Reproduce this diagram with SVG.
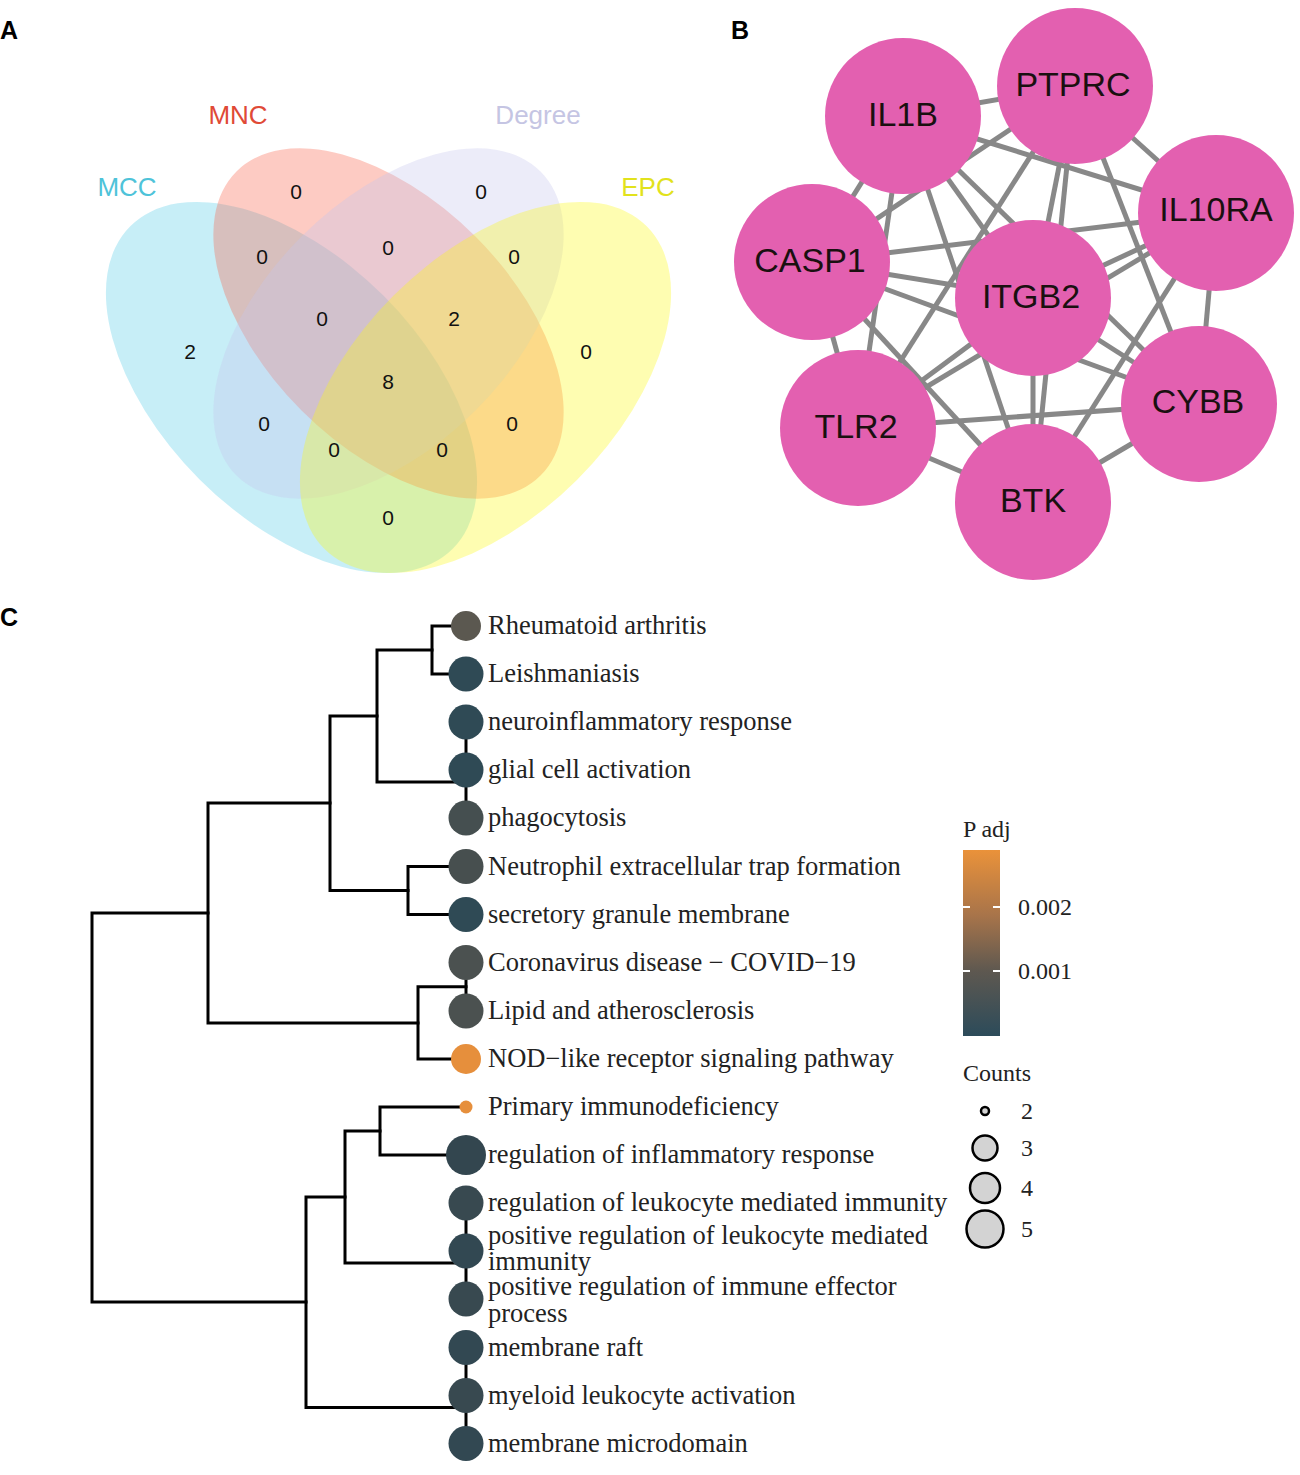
<svg xmlns="http://www.w3.org/2000/svg" width="1300" height="1475" viewBox="0 0 1300 1475">
<defs>
<linearGradient id="pgrad" x1="0" y1="0" x2="0" y2="1">
<stop offset="0" stop-color="#ea923a"/>
<stop offset="0.35" stop-color="#a8744a"/>
<stop offset="0.65" stop-color="#5e5850"/>
<stop offset="1" stop-color="#2c4b5a"/>
</linearGradient>
</defs>
<style>
.panel{font-family:"Liberation Sans",Arial,sans-serif;font-weight:bold;font-size:25px;fill:#000}
.vlab{font-family:"Liberation Sans",Arial,sans-serif;font-size:26px;text-anchor:middle}
.vnum{font-family:"Liberation Sans",Arial,sans-serif;font-size:21px;text-anchor:middle;fill:#111}
.edge{stroke:#888;stroke-width:5;fill:none}
.node{fill:#e360b0}
.ntxt{font-family:"Liberation Sans",Arial,sans-serif;font-size:34px;text-anchor:middle;fill:#1a1010}
.tree{stroke:#000;stroke-width:3;fill:none;stroke-linecap:square}
.tlab{font-family:"Liberation Serif","Times New Roman",serif;font-size:26.5px;fill:#222}
.leg{font-family:"Liberation Serif","Times New Roman",serif;font-size:24px;fill:#222}
.lc{fill:#d3d3d3;stroke:#000;stroke-width:2.5}
.tick{stroke:#fff;stroke-width:2}
</style>
<rect width="1300" height="1475" fill="#fff"/>
<text class="panel" x="0" y="39">A</text>
<text class="panel" x="731" y="39">B</text>
<text class="panel" x="0" y="626">C</text>

<g id="venn">
<ellipse id="set-MCC" cx="291.5" cy="387.5" rx="228" ry="130" transform="rotate(45 291.5 387.5)" fill="#56cbe6" fill-opacity="0.33"/>
<ellipse id="set-MNC" cx="388.5" cy="323.5" rx="215" ry="123" transform="rotate(45 388.5 323.5)" fill="#f86248" fill-opacity="0.33"/>
<ellipse id="set-Degree" cx="388.5" cy="323.5" rx="215" ry="123" transform="rotate(-45 388.5 323.5)" fill="#c6c6ee" fill-opacity="0.33"/>
<ellipse id="set-EPC" cx="485.5" cy="387.5" rx="228" ry="130" transform="rotate(-45 485.5 387.5)" fill="#fcfa12" fill-opacity="0.33"/>
<text class="vlab" x="127" y="196" fill="#4ec3d9">MCC</text>
<text class="vlab" x="238" y="124" fill="#e04a36">MNC</text>
<text class="vlab" x="538" y="124" fill="#c5c5e3">Degree</text>
<text class="vlab" x="648" y="196" fill="#e2e21c">EPC</text>
<text class="vnum" x="296" y="199">0</text>
<text class="vnum" x="481" y="199">0</text>
<text class="vnum" x="262" y="264">0</text>
<text class="vnum" x="388" y="255">0</text>
<text class="vnum" x="514" y="264">0</text>
<text class="vnum" x="322" y="326">0</text>
<text class="vnum" x="454" y="326">2</text>
<text class="vnum" x="190" y="359">2</text>
<text class="vnum" x="586" y="359">0</text>
<text class="vnum" x="388" y="389">8</text>
<text class="vnum" x="264" y="431">0</text>
<text class="vnum" x="512" y="431">0</text>
<text class="vnum" x="334" y="457">0</text>
<text class="vnum" x="442" y="457">0</text>
<text class="vnum" x="388" y="525">0</text>
</g>

<g id="network-edges">
<line class="edge" x1="1075" y1="86" x2="903" y2="116"/>
<line class="edge" x1="1075" y1="86" x2="1216" y2="213"/>
<line class="edge" x1="1075" y1="86" x2="812" y2="262"/>
<line class="edge" x1="1075" y1="86" x2="1033" y2="298"/>
<line class="edge" x1="1075" y1="86" x2="1199" y2="404"/>
<line class="edge" x1="1075" y1="86" x2="858" y2="428"/>
<line class="edge" x1="1075" y1="86" x2="1033" y2="502"/>
<line class="edge" x1="903" y1="116" x2="1216" y2="213"/>
<line class="edge" x1="903" y1="116" x2="812" y2="262"/>
<line class="edge" x1="903" y1="116" x2="1033" y2="298"/>
<line class="edge" x1="903" y1="116" x2="1199" y2="404"/>
<line class="edge" x1="903" y1="116" x2="858" y2="428"/>
<line class="edge" x1="903" y1="116" x2="1033" y2="502"/>
<line class="edge" x1="1216" y1="213" x2="812" y2="262"/>
<line class="edge" x1="1216" y1="213" x2="1033" y2="298"/>
<line class="edge" x1="1216" y1="213" x2="1199" y2="404"/>
<line class="edge" x1="1216" y1="213" x2="858" y2="428"/>
<line class="edge" x1="1216" y1="213" x2="1033" y2="502"/>
<line class="edge" x1="812" y1="262" x2="1033" y2="298"/>
<line class="edge" x1="812" y1="262" x2="1199" y2="404"/>
<line class="edge" x1="812" y1="262" x2="858" y2="428"/>
<line class="edge" x1="812" y1="262" x2="1033" y2="502"/>
<line class="edge" x1="1033" y1="298" x2="1199" y2="404"/>
<line class="edge" x1="1033" y1="298" x2="858" y2="428"/>
<line class="edge" x1="1033" y1="298" x2="1033" y2="502"/>
<line class="edge" x1="1199" y1="404" x2="858" y2="428"/>
<line class="edge" x1="1199" y1="404" x2="1033" y2="502"/>
<line class="edge" x1="858" y1="428" x2="1033" y2="502"/>
</g>

<g id="node-PTPRC"><circle class="node" cx="1075" cy="86" r="78"/><text class="ntxt" x="1073" y="96">PTPRC</text></g>
<g id="node-IL1B"><circle class="node" cx="903" cy="116" r="78"/><text class="ntxt" x="903" y="126">IL1B</text></g>
<g id="node-IL10RA"><circle class="node" cx="1216" cy="213" r="78"/><text class="ntxt" x="1216" y="221">IL10RA</text></g>
<g id="node-CASP1"><circle class="node" cx="812" cy="262" r="78"/><text class="ntxt" x="810" y="272">CASP1</text></g>
<g id="node-ITGB2"><circle class="node" cx="1033" cy="298" r="78"/><text class="ntxt" x="1031" y="308">ITGB2</text></g>
<g id="node-CYBB"><circle class="node" cx="1199" cy="404" r="78"/><text class="ntxt" x="1198" y="413">CYBB</text></g>
<g id="node-TLR2"><circle class="node" cx="858" cy="428" r="78"/><text class="ntxt" x="856" y="438">TLR2</text></g>
<g id="node-BTK"><circle class="node" cx="1033" cy="502" r="78"/><text class="ntxt" x="1033" y="512">BTK</text></g>

<g id="tree-edges">
<path class="tree" d="M432 626H466M432 674H466M432 626V674"/>
<path class="tree" d="M466 722V818"/>
<path class="tree" d="M377 650V782M377 650H432M377 782H466"/>
<path class="tree" d="M408 866.5V914.5M408 866.5H466M408 914.5H466"/>
<path class="tree" d="M330 716V890.5M330 716H377M330 890.5H408"/>
<path class="tree" d="M466 962.5V1011"/>
<path class="tree" d="M418 986.75V1059M418 986.75H466M418 1059H466"/>
<path class="tree" d="M208 803V1023M208 803H330M208 1023H418"/>
<path class="tree" d="M380 1107V1155M380 1107H466M380 1155H466"/>
<path class="tree" d="M466 1203V1299"/>
<path class="tree" d="M345 1131V1263M345 1131H380M345 1263H466"/>
<path class="tree" d="M466 1347.5V1443.5"/>
<path class="tree" d="M306 1197V1407.5M306 1197H345M306 1407.5H466"/>
<path class="tree" d="M92 913V1302M92 913H208M92 1302H306"/>
</g>

<g id="leaf-1"><circle cx="466" cy="626" r="15" fill="#5b5850"/><text class="tlab" x="488" y="634">Rheumatoid arthritis</text></g>
<g id="leaf-2"><circle cx="466" cy="674" r="17.5" fill="#2f4a55"/><text class="tlab" x="488" y="682">Leishmaniasis</text></g>
<g id="leaf-3"><circle cx="466" cy="722" r="17.5" fill="#2f4a55"/><text class="tlab" x="488" y="730">neuroinflammatory response</text></g>
<g id="leaf-4"><circle cx="466" cy="770" r="17.5" fill="#2f4a55"/><text class="tlab" x="488" y="778">glial cell activation</text></g>
<g id="leaf-5"><circle cx="466" cy="818" r="17.5" fill="#454f50"/><text class="tlab" x="488" y="826">phagocytosis</text></g>
<g id="leaf-6"><circle cx="466" cy="866.5" r="17.5" fill="#474f4f"/><text class="tlab" x="488" y="874.5">Neutrophil extracellular trap formation</text></g>
<g id="leaf-7"><circle cx="466" cy="914.5" r="17.5" fill="#2f4a55"/><text class="tlab" x="488" y="922.5">secretory granule membrane</text></g>
<g id="leaf-8"><circle cx="466" cy="962.5" r="17.5" fill="#4b5150"/><text class="tlab" x="488" y="970.5">Coronavirus disease − COVID−19</text></g>
<g id="leaf-9"><circle cx="466" cy="1011" r="17.5" fill="#4b5150"/><text class="tlab" x="488" y="1019">Lipid and atherosclerosis</text></g>
<g id="leaf-10"><circle cx="466" cy="1059" r="15" fill="#e68f3c"/><text class="tlab" x="488" y="1067">NOD−like receptor signaling pathway</text></g>
<g id="leaf-11"><circle cx="466" cy="1107" r="6.5" fill="#e68f3c"/><text class="tlab" x="488" y="1115">Primary immunodeficiency</text></g>
<g id="leaf-12"><circle cx="466" cy="1155" r="20" fill="#33464f"/><text class="tlab" x="488" y="1163">regulation of inflammatory response</text></g>
<g id="leaf-13"><circle cx="466" cy="1203" r="17.5" fill="#384950"/><text class="tlab" x="488" y="1211">regulation of leukocyte mediated immunity</text></g>
<g id="leaf-14"><circle cx="466" cy="1251" r="17.5" fill="#324852"/><text class="tlab" x="488" y="1244">positive regulation of leukocyte mediated</text><text class="tlab" x="488" y="1270">immunity</text></g>
<g id="leaf-15"><circle cx="466" cy="1299" r="17.5" fill="#384950"/><text class="tlab" x="488" y="1295">positive regulation of immune effector</text><text class="tlab" x="488" y="1322">process</text></g>
<g id="leaf-16"><circle cx="466" cy="1347.5" r="17.5" fill="#324852"/><text class="tlab" x="488" y="1355.5">membrane raft</text></g>
<g id="leaf-17"><circle cx="466" cy="1395.5" r="17.5" fill="#384950"/><text class="tlab" x="488" y="1403.5">myeloid leukocyte activation</text></g>
<g id="leaf-18"><circle cx="466" cy="1443.5" r="17.5" fill="#324852"/><text class="tlab" x="488" y="1451.5">membrane microdomain</text></g>

<g id="legend-padj">
<text class="leg" x="963" y="837">P adj</text>
<rect x="963" y="850" width="37" height="186" fill="url(#pgrad)"/>
<line class="tick" x1="963" y1="907" x2="970" y2="907"/>
<line class="tick" x1="993" y1="907" x2="1000" y2="907"/>
<line class="tick" x1="963" y1="971" x2="970" y2="971"/>
<line class="tick" x1="993" y1="971" x2="1000" y2="971"/>
<text class="leg" x="1018" y="915">0.002</text>
<text class="leg" x="1018" y="979">0.001</text>
</g>
<g id="legend-counts">
<text class="leg" x="963" y="1081">Counts</text>
<circle class="lc" cx="985" cy="1111" r="4"/>
<circle class="lc" cx="985" cy="1148" r="12.5"/>
<circle class="lc" cx="985" cy="1188" r="15"/>
<circle class="lc" cx="985" cy="1229" r="18.5"/>
<text class="leg" x="1021" y="1119">2</text>
<text class="leg" x="1021" y="1156">3</text>
<text class="leg" x="1021" y="1196">4</text>
<text class="leg" x="1021" y="1237">5</text>
</g>
</svg>
